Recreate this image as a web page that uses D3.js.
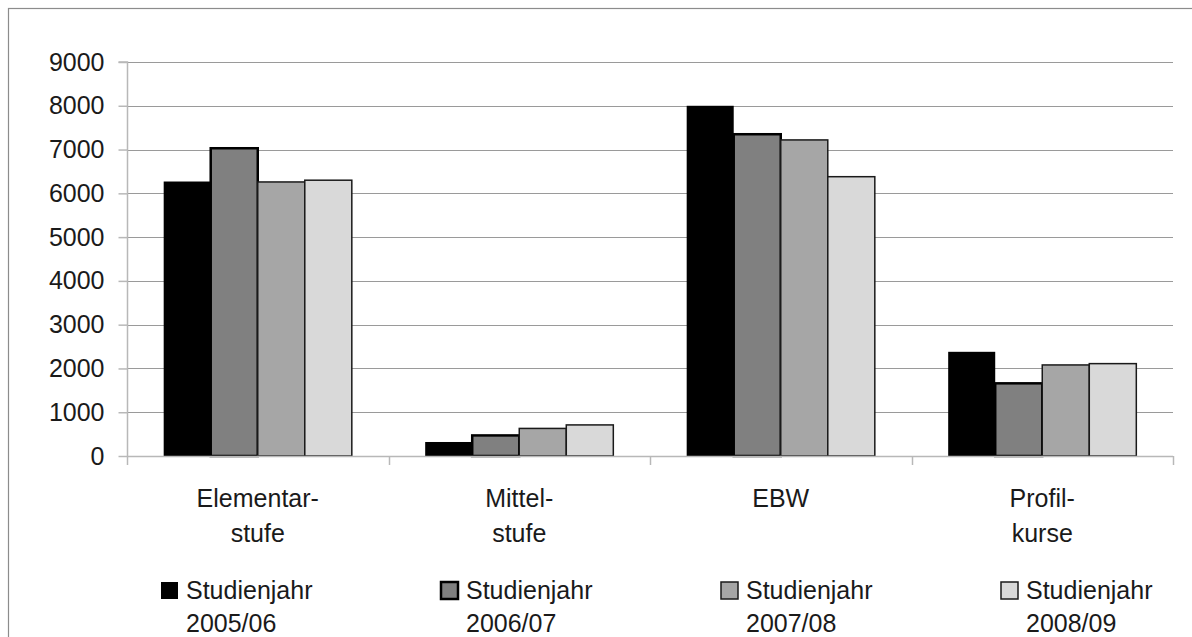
<!DOCTYPE html>
<html>
<head>
<meta charset="utf-8">
<script src="https://cdn.jsdelivr.net/npm/d3@7"></script>
<style>
  html, body { margin: 0; padding: 0; background: #fff; }
  svg { display: block; font-family: "Liberation Sans", Arial, sans-serif; }
</style>
</head>
<body>
<svg id="chart" width="1192" height="637"></svg>
<script>
// ---- data ----
const categories = [["Elementar-", "stufe"], ["Mittel-", "stufe"], ["EBW"], ["Profil-", "kurse"]];
const seriesNames = [["Studienjahr", "2005/06"], ["Studienjahr", "2006/07"], ["Studienjahr", "2007/08"], ["Studienjahr", "2008/09"]];
const s2005 = [6270, 320, 8000, 2380];
const s2006 = [7030, 470, 7350, 1660];
const s2007 = [6260, 630, 7220, 2080];
const s2008 = [6300, 710, 6380, 2110];
const yTicks = [0, 1000, 2000, 3000, 4000, 5000, 6000, 7000, 8000, 9000];

// ---- styles ----
const fills = ["#000000", "#808080", "#a6a6a6", "#d9d9d9"];
const strokes = ["none", "#000000", "#1a1a1a", "#1a1a1a"];
const strokeW = [0, 2.5, 1.5, 1.5];
const textColor = "#1a1a1a";

const svg = d3.select("#chart");
const plot = { left: 127, right: 1173, top: 62, bottom: 456 };

// outer frame
svg.append("rect").attr("x", 8.5).attr("y", 8.5).attr("width", 1220).attr("height", 700)
  .attr("fill", "none").attr("stroke", "#8c8c8c").attr("stroke-width", 1.2);

const catIdx = d3.range(categories.length);
const x0 = d3.scaleBand().domain(catIdx).range([plot.left, plot.right]).paddingInner(0).paddingOuter(0);
const serIdx = d3.range(seriesNames.length);
const x1 = d3.scaleBand().domain(serIdx).range([0, x0.bandwidth()]).paddingInner(0).paddingOuter(0.78);
const y = d3.scaleLinear().domain([0, 9000]).range([plot.bottom, plot.top]);

// gridlines
svg.append("g").selectAll("line").data(yTicks.filter(d => d > 0)).join("line")
  .attr("x1", plot.left).attr("x2", plot.right)
  .attr("y1", d => Math.round(y(d)) + 0.5).attr("y2", d => Math.round(y(d)) + 0.5)
  .attr("stroke", "#9a9a9a").attr("stroke-width", 1.2);

// y axis
const yAxis = d3.axisLeft(y).tickValues(yTicks).tickSize(9).tickPadding(14).tickFormat(d3.format("d"));
const gy = svg.append("g").attr("transform", `translate(${plot.left + 0.5},0)`).call(yAxis);
gy.select(".domain").attr("stroke", "#b8b8b8").attr("stroke-width", 1.5).attr("d", `M-9,${plot.top}H0V${plot.bottom}`);
gy.selectAll(".tick line").attr("stroke", "#b8b8b8").attr("stroke-width", 1.5);
gy.selectAll(".tick text").attr("font-size", 25).attr("fill", textColor)
  .attr("font-family", "'Liberation Sans', Arial, sans-serif");

// bars
const seriesData = [s2005, s2006, s2007, s2008];
const groups = svg.append("g").selectAll("g").data(catIdx).join("g")
  .attr("transform", c => `translate(${x0(c)},0)`);
groups.selectAll("rect").data(c => serIdx.map(s => ({ s, v: seriesData[s][c] }))).join("rect")
  .attr("x", d => x1(d.s)).attr("width", x1.bandwidth())
  .attr("y", d => y(d.v)).attr("height", d => y(0) - y(d.v))
  .attr("fill", d => fills[d.s]).attr("stroke", d => strokes[d.s]).attr("stroke-width", d => strokeW[d.s]);

// x axis
const xAxisLine = svg.append("g");
xAxisLine.append("line").attr("x1", plot.left).attr("x2", plot.right)
  .attr("y1", plot.bottom + 0.5).attr("y2", plot.bottom + 0.5)
  .attr("stroke", "#b8b8b8").attr("stroke-width", 1.5);
const boundaries = catIdx.map(c => x0(c)).concat([plot.right]);
xAxisLine.selectAll("line.tk").data(boundaries).join("line").attr("class", "tk")
  .attr("x1", d => Math.round(d) + 0.5).attr("x2", d => Math.round(d) + 0.5)
  .attr("y1", plot.bottom).attr("y2", plot.bottom + 9)
  .attr("stroke", "#b8b8b8").attr("stroke-width", 1.5);

// category labels (one text element per line)
const catLines = [];
catIdx.forEach(c => categories[c].forEach((t, i) => catLines.push({ c, i, t })));
svg.append("g").selectAll("text").data(catLines).join("text")
  .attr("x", d => x0(d.c) + x0.bandwidth() / 2).attr("y", d => 507 + d.i * 35)
  .attr("text-anchor", "middle").attr("font-size", 25).attr("fill", textColor)
  .text(d => d.t);

// legend
const legendX = d3.scaleLinear().domain([0, 1]).range([161, 441]);
const leg = svg.append("g").selectAll("g").data(serIdx).join("g")
  .attr("transform", s => `translate(${legendX(s)},582)`);
leg.append("rect").attr("x", 0).attr("y", 0).attr("width", 17).attr("height", 17)
  .attr("fill", s => fills[s]).attr("stroke", s => strokes[s]).attr("stroke-width", s => strokeW[s]);
const legLines = [];
serIdx.forEach(s => seriesNames[s].forEach((t, i) => legLines.push({ s, i, t })));
svg.append("g").selectAll("text").data(legLines).join("text")
  .attr("x", d => legendX(d.s) + 25).attr("y", d => 599 + d.i * 33)
  .attr("text-anchor", "start").attr("font-size", 25).attr("fill", textColor)
  .text(d => d.t);
</script>
</body>
</html>
